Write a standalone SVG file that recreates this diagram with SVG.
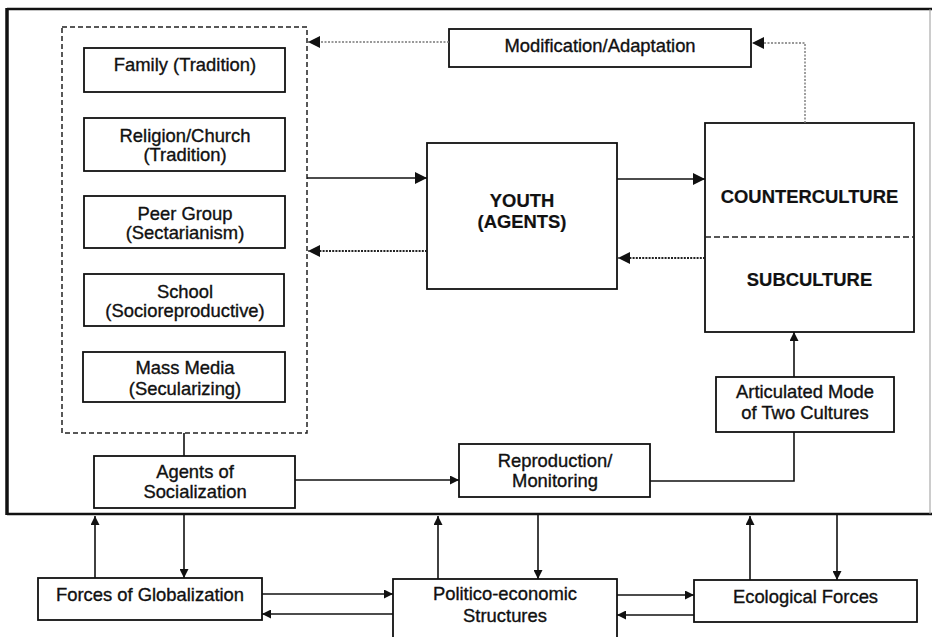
<svg xmlns="http://www.w3.org/2000/svg" width="932" height="637" viewBox="0 0 932 637">
<defs>
<style>
.box{fill:#fff;stroke:#111;stroke-width:1.8}
.t{font-family:"Liberation Sans",Arial,sans-serif;font-size:18.4px;fill:#111;stroke:#111;stroke-width:0.35;text-anchor:middle}
.b{font-weight:bold;stroke-width:0.2}
.ln{fill:none;stroke:#111;stroke-width:1.6}
.dot{fill:none;stroke:#222;stroke-width:2;stroke-dasharray:2 1.2}
.dotl{fill:none;stroke:#777;stroke-width:1.4;stroke-dasharray:2 1.5}
</style>
<marker id="ah" viewBox="0 0 10 10" refX="10" refY="5" markerWidth="10" markerHeight="9" markerUnits="userSpaceOnUse" orient="auto">
<path d="M0,0 L10,5 L0,10 z" fill="#111"/>
</marker>
<marker id="ahL" viewBox="0 0 10 10" refX="10" refY="5" markerWidth="13" markerHeight="12" markerUnits="userSpaceOnUse" orient="auto">
<path d="M0,0 L10,5 L0,10 z" fill="#111"/>
</marker>
</defs>
<rect width="932" height="637" fill="#fff"/>

<g id="outer-frame">
<line x1="7" y1="9" x2="932" y2="9" stroke="#111" stroke-width="2.4"/>
<line x1="7" y1="514" x2="932" y2="514" stroke="#111" stroke-width="2.4"/>
<line x1="7" y1="8" x2="7" y2="515" stroke="#111" stroke-width="3.5"/>
<line x1="930" y1="9" x2="930" y2="514" stroke="#999" stroke-width="1"/>
</g>

<g id="agents-container">
<rect x="62" y="27" width="245" height="406" fill="none" stroke="#222" stroke-width="1.5" stroke-dasharray="5 3"/>
</g>

<g id="family"><rect class="box" x="84" y="48" width="201" height="44"/><text class="t" x="185" y="71">Family (Tradition)</text></g>
<g id="religion"><rect class="box" x="84" y="118" width="201" height="53"/><text class="t" x="185" y="142">Religion/Church</text><text class="t" x="185" y="161">(Tradition)</text></g>
<g id="peer"><rect class="box" x="84" y="196" width="201" height="52"/><text class="t" x="185" y="220">Peer Group</text><text class="t" x="185" y="239">(Sectarianism)</text></g>
<g id="school"><rect class="box" x="84" y="274" width="200" height="52"/><text class="t" x="185" y="298">School</text><text class="t" x="185" y="317">(Socioreproductive)</text></g>
<g id="massmedia"><rect class="box" x="83" y="352" width="202" height="50"/><text class="t" x="185" y="374">Mass Media</text><text class="t" x="185" y="395">(Secularizing)</text></g>

<g id="agents"><rect class="box" x="94" y="456" width="201" height="52"/><text class="t" x="195" y="478">Agents of</text><text class="t" x="195" y="498">Socialization</text></g>

<g id="modification"><rect class="box" x="449" y="29" width="302" height="38"/><text class="t" x="600" y="52">Modification/Adaptation</text></g>

<g id="youth"><rect class="box" x="427" y="143" width="190" height="146"/><text class="t b" x="522" y="207">YOUTH</text><text class="t b" x="522" y="228">(AGENTS)</text></g>

<g id="culture"><rect class="box" x="705" y="123" width="209" height="209"/>
<line x1="705" y1="237" x2="914" y2="237" stroke="#222" stroke-width="1.5" stroke-dasharray="6 3"/>
<text class="t b" x="809.5" y="203">COUNTERCULTURE</text><text class="t b" x="809.5" y="286">SUBCULTURE</text></g>

<g id="articulated"><rect class="box" x="716" y="377" width="178" height="55"/><text class="t" x="805" y="398">Articulated Mode</text><text class="t" x="805" y="419">of Two Cultures</text></g>

<g id="reproduction"><rect class="box" x="459" y="444" width="191" height="53"/><text class="t" x="555" y="467">Reproduction/</text><text class="t" x="555" y="487">Monitoring</text></g>

<g id="globalization"><rect class="box" x="38" y="578" width="224" height="42"/><text class="t" x="150" y="601">Forces of Globalization</text></g>
<g id="politico"><rect class="box" x="393" y="579" width="224" height="70"/><text class="t" x="505" y="600">Politico-economic</text><text class="t" x="505" y="622">Structures</text></g>
<g id="ecological"><rect class="box" x="694" y="580" width="223" height="42"/><text class="t" x="805.5" y="603">Ecological Forces</text></g>

<g id="connectors">
<line class="ln" x1="307" y1="178" x2="427" y2="178" marker-end="url(#ahL)"/>
<line class="ln" x1="617" y1="179" x2="705" y2="179" marker-end="url(#ahL)"/>
<line class="dot" x1="705" y1="258" x2="618" y2="258" marker-end="url(#ahL)"/>
<line class="dot" x1="427" y1="251" x2="308" y2="251" marker-end="url(#ahL)"/>
<line class="dotl" x1="449" y1="42" x2="308" y2="42" marker-end="url(#ahL)"/>
<polyline class="dotl" points="805,123 805,43 752,43" marker-end="url(#ahL)"/>
<line class="ln" x1="184" y1="433" x2="184" y2="456"/>
<line class="ln" x1="295" y1="480" x2="459" y2="480" marker-end="url(#ah)"/>
<polyline class="ln" points="650,481 794,481 794,432"/>
<line class="ln" x1="794" y1="377" x2="794" y2="332" marker-end="url(#ah)"/>
<line class="ln" x1="95" y1="578" x2="95" y2="516" marker-end="url(#ah)"/>
<line class="ln" x1="184" y1="515" x2="184" y2="578" marker-end="url(#ah)"/>
<line class="ln" x1="438" y1="579" x2="438" y2="516" marker-end="url(#ah)"/>
<line class="ln" x1="538" y1="515" x2="538" y2="579" marker-end="url(#ah)"/>
<line class="ln" x1="750" y1="580" x2="750" y2="516" marker-end="url(#ah)"/>
<line class="ln" x1="837" y1="515" x2="837" y2="580" marker-end="url(#ah)"/>
<line class="ln" x1="262" y1="594" x2="393" y2="594" marker-end="url(#ah)"/>
<line class="ln" x1="393" y1="614" x2="262" y2="614" marker-end="url(#ah)"/>
<line class="ln" x1="617" y1="595" x2="694" y2="595" marker-end="url(#ah)"/>
<line class="ln" x1="694" y1="615" x2="617" y2="615" marker-end="url(#ah)"/>
</g>
</svg>
